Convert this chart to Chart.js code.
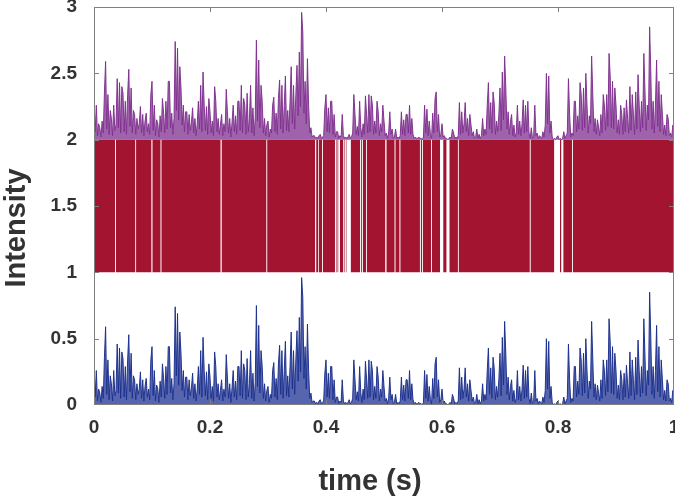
<!DOCTYPE html>
<html><head><meta charset="utf-8">
<script src="https://cdn.jsdelivr.net/npm/chart.js@4"></script>
<style>html,body{margin:0;padding:0;background:#fff}#wrap{width:675px;height:496px}</style>
</head><body><div id="wrap"><canvas id="c" width="675" height="496"></canvas></div>
<script>
// ---- data ----
const timeStep = 0.002; // s between samples
const intensity = [
0.31,0.06,0.26,0.03,0.12, 0.09,0.02,0.14,0.05,0.36, 0.59,0.08,0.34,0.04,0.22, 0.16,0.03,0.26,0.07,0.11,
0.46,0.09,0.43,0.05,0.40, 0.35,0.06,0.29,0.04,0.34, 0.53,0.10,0.39,0.05,0.22, 0.19,0.04,0.16,0.08,0.12,
0.25,0.05,0.19,0.03,0.14, 0.20,0.06,0.12,0.04,0.34, 0.44,0.07,0.26,0.03,0.15, 0.12,0.02,0.18,0.06,0.31,
0.20,0.05,0.29,0.08,0.44, 0.44,0.09,0.20,0.04,0.16, 0.74,0.22,0.69,0.15,0.55, 0.39,0.11,0.26,0.06,0.21,
0.21,0.04,0.19,0.07,0.13, 0.24,0.05,0.16,0.03,0.12, 0.29,0.08,0.41,0.06,0.51, 0.26,0.07,0.25,0.04,0.31,
0.21,0.05,0.14,0.03,0.40, 0.29,0.06,0.16,0.04,0.11, 0.19,0.03,0.12,0.06,0.38, 0.21,0.05,0.16,0.02,0.13,
0.26,0.06,0.18,0.04,0.29, 0.29,0.07,0.41,0.05,0.31, 0.26,0.04,0.35,0.06,0.16, 0.41,0.05,0.24,0.03,0.17,
0.75,0.14,0.60,0.09,0.41, 0.29,0.05,0.16,0.03,0.11, 0.14,0.02,0.08,0.05,0.26, 0.32,0.06,0.20,0.04,0.31,
0.45,0.08,0.41,0.05,0.26, 0.48,0.07,0.22,0.06,0.29, 0.55,0.12,0.41,0.08,0.34, 0.56,0.18,0.66,0.25,0.96,
0.81,0.20,0.44,0.12,0.61, 0.26,0.05,0.09,0.02,0.03, 0.03,0.01,0.02,0.01,0.03, 0.04,0.01,0.02,0.03,0.24,
0.34,0.06,0.24,0.05,0.29, 0.29,0.04,0.19,0.02,0.06, 0.06,0.01,0.03,0.02,0.19, 0.03,0.01,0.02,0.01,0.02,
0.04,0.01,0.02,0.05,0.34, 0.19,0.04,0.10,0.03,0.29, 0.09,0.02,0.12,0.04,0.33, 0.19,0.05,0.34,0.06,0.33,
0.26,0.04,0.14,0.05,0.29, 0.21,0.03,0.12,0.06,0.26, 0.14,0.03,0.05,0.01,0.05, 0.21,0.04,0.08,0.01,0.02,
0.08,0.01,0.02,0.01,0.03, 0.21,0.04,0.15,0.03,0.19, 0.19,0.05,0.26,0.04,0.16, 0.04,0.01,0.02,0.01,0.01,
0.02,0.01,0.01,0.00,0.02, 0.26,0.05,0.23,0.03,0.14, 0.04,0.01,0.20,0.05,0.31, 0.36,0.06,0.19,0.02,0.04,
0.12,0.02,0.03,0.01,0.01, 0.00,0.01,0.02,0.01,0.08, 0.05,0.01,0.02,0.01,0.03, 0.28,0.04,0.21,0.05,0.12,
0.28,0.06,0.16,0.03,0.19, 0.11,0.03,0.06,0.01,0.02, 0.08,0.01,0.04,0.01,0.03, 0.16,0.03,0.08,0.04,0.26,
0.43,0.08,0.28,0.05,0.36, 0.28,0.04,0.14,0.06,0.19, 0.39,0.07,0.51,0.15,0.63, 0.39,0.08,0.21,0.04,0.14,
0.19,0.03,0.11,0.02,0.05, 0.26,0.04,0.14,0.03,0.12, 0.30,0.05,0.26,0.06,0.29, 0.05,0.01,0.09,0.01,0.02,
0.26,0.03,0.05,0.01,0.03, 0.02,0.01,0.06,0.02,0.11, 0.50,0.12,0.48,0.05,0.14, 0.02,0.00,0.01,0.00,0.02,
0.03,0.00,0.01,0.00,0.01, 0.06,0.01,0.03,0.05,0.46, 0.19,0.02,0.05,0.03,0.29, 0.29,0.06,0.18,0.08,0.43,
0.34,0.07,0.39,0.09,0.50, 0.26,0.05,0.18,0.12,0.63, 0.34,0.06,0.16,0.04,0.15, 0.09,0.03,0.19,0.05,0.34,
0.26,0.07,0.34,0.10,0.65, 0.48,0.09,0.44,0.08,0.39, 0.26,0.05,0.15,0.04,0.26, 0.19,0.04,0.24,0.06,0.30,
0.16,0.05,0.40,0.07,0.34, 0.19,0.04,0.36,0.08,0.49, 0.26,0.06,0.29,0.09,0.65, 0.36,0.07,0.26,0.15,0.85,
0.51,0.08,0.29,0.05,0.26, 0.60,0.10,0.44,0.06,0.34, 0.19,0.04,0.11,0.03,0.19, 0.16,0.03,0.05,0.02,0.11,
0.08
];
const upperOffset = 2;          // the upper (purple) trace is the same signal shown at +2
const bandLow = 1, bandHigh = 2; // two-state (telegraph) signal levels
const bandGaps = [               // time intervals where the two-state signal stops switching
[0.0365,0.0375],[0.0715,0.0725],[0.0993,0.1005],[0.1150,0.1160],[0.2185,0.2198],[0.2975,0.2985],
[0.3815,0.3830],[0.3870,0.3878],[0.3935,0.3945],
[0.4155,0.4170],[0.4185,0.4195],[0.4215,0.4240],
[0.4300,0.4315],[0.4330,0.4340],[0.4356,0.4425],
[0.4590,0.4605],[0.4625,0.4635],[0.4695,0.4705],
[0.5025,0.5040],[0.5185,0.5195],[0.5270,0.5280],
[0.5620,0.5632],[0.5655,0.5667],[0.5815,0.5825],[0.5966,0.6020],[0.6080,0.6126],[0.6275,0.6285],
[0.7515,0.7525],[0.7937,0.8034],[0.8060,0.8090],[0.8245,0.8255]
];
const xTicks = [0,0.2,0.4,0.6,0.8,1];
const xTickLabels = ['0','0.2','0.4','0.6','0.8','1'];
const yTicks = [0,0.5,1,1.5,2,2.5,3];
const yTickLabels = ['0','0.5','1','1.5','2','2.5','3'];
const xTitle = 'time (s)';
const yTitle = 'Intensity';

// ---- build library data ----
const lowerPts = intensity.map((v,i)=>({x:i*timeStep, y:v}));
const upperPts = intensity.map((v,i)=>({x:i*timeStep, y:v+upperOffset}));
const bandPts = [];
let start = 0;
bandGaps.forEach(g=>{ bandPts.push({x:start,y:bandHigh},{x:g[0],y:bandHigh},{x:g[0],y:null}); start=g[1]; });
bandPts.push({x:start,y:bandHigh},{x:1,y:bandHigh});

const FONT = '"Liberation Sans", Arial, Helvetica, sans-serif';
const TXT = '#333333';
const FRAME = '#808080';

const framePlugin = {
  id:'frame',
  afterDraw(chart){
    const {ctx, chartArea:a, scales:{x,y}} = chart;
    ctx.save();
    ctx.strokeStyle = FRAME; ctx.lineWidth = 1;
    ctx.strokeRect(a.left+0.5, a.top+0.5, a.right-a.left-1, a.bottom-a.top-1);
    const L = 5;
    ctx.beginPath();
    xTicks.slice(1,-1).forEach(v=>{
      const px = Math.round(x.getPixelForValue(v))+0.5;
      ctx.moveTo(px,a.top); ctx.lineTo(px,a.top+L);
      ctx.moveTo(px,a.bottom); ctx.lineTo(px,a.bottom-L);
    });
    yTicks.slice(1,-1).forEach(v=>{
      const py = Math.round(y.getPixelForValue(v))+0.5;
      ctx.moveTo(a.left,py); ctx.lineTo(a.left+L,py);
      ctx.moveTo(a.right,py); ctx.lineTo(a.right-L,py);
    });
    ctx.stroke();
    // axis titles
    ctx.fillStyle = TXT;
    ctx.font = 'bold 29px '+FONT;
    ctx.textAlign = 'center'; ctx.textBaseline = 'alphabetic';
    ctx.fillText(xTitle, (a.left+a.right)/2 - 14, 490);
    ctx.translate(25, (a.top+a.bottom)/2 + 22);
    ctx.rotate(-Math.PI/2);
    ctx.fillText(yTitle, 0, 0);
    ctx.restore();
  }
};

new Chart(document.getElementById('c'), {
  type:'line',
  data:{ datasets:[
    {data:lowerPts, borderColor:'rgba(26,46,140,0.95)', backgroundColor:'rgba(30,50,145,0.75)', borderWidth:1, pointRadius:0, fill:{value:0}, tension:0},
    {data:upperPts, borderColor:'rgba(126,47,142,0.95)', backgroundColor:'rgba(126,47,142,0.75)', borderWidth:1, pointRadius:0, fill:{value:upperOffset}, tension:0},
    {data:bandPts, borderColor:'rgba(0,0,0,0)', borderWidth:0, pointRadius:0, backgroundColor:'#A2142F', fill:{value:bandLow}, spanGaps:false, tension:0}
  ]},
  options:{
    responsive:false, animation:false, events:[],
    layout:{padding:{top:7,right:1,left:0,bottom:0}},
    plugins:{legend:{display:false}, tooltip:{enabled:false}},
    scales:{
      x:{type:'linear', min:0, max:1,
         afterFit(s){ s.height = 91; s.paddingLeft = 0; s.paddingRight = 0; },
         afterBuildTicks(s){ s.ticks = xTicks.map(v=>({value:v})); },
         grid:{display:false, drawTicks:false}, border:{display:false},
         ticks:{padding:11, maxRotation:0, color:TXT, font:{family:FONT, size:19, weight:'bold'},
                callback:(v,i)=>xTickLabels[i]}},
      y:{type:'linear', min:0, max:3,
         afterFit(s){ s.width = 94; s.paddingTop = 0; s.paddingBottom = 0; },
         afterBuildTicks(s){ s.ticks = yTicks.map(v=>({value:v})); },
         grid:{display:false, drawTicks:false}, border:{display:false},
         ticks:{padding:17, color:TXT, font:{family:FONT, size:19, weight:'bold'},
                callback:(v,i)=>yTickLabels[i]}}
    }
  },
  plugins:[framePlugin]
});
</script>
</body></html>
